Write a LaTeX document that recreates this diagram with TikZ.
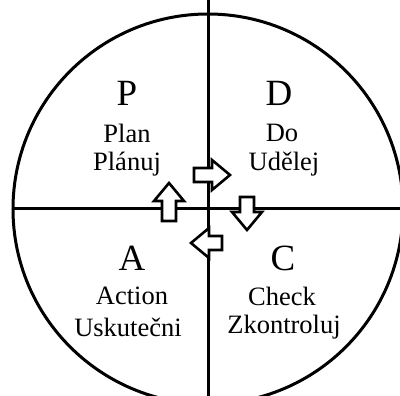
\documentclass[tikz,border=0pt]{standalone}
\usepackage{fontspec}
\setmainfont{Liberation Serif}
\begin{document}
\begin{tikzpicture}[x=1pt,y=-1pt,
  line/.style={line width=3pt},
  big/.style={font=\fontsize{37}{40}\selectfont, inner sep=0pt},
  small/.style={font=\fontsize{26.5}{28}\selectfont, inner sep=0pt, align=center},
  blockarrow/.style={line width=2.6pt, fill=white, line join=miter}]
\useasboundingbox (0,0) rectangle (400,396);
\begin{scope}
\clip (0,0) rectangle (400,396);
\draw[line] (208,209) circle (195);
\draw[line] (208,0) -- (208,396);
\draw[line] (12,209) -- (400,209);
\end{scope}
% block arrows
\newcommand{\blockarr}[4]{% x, y (tail centre), angle, length
  \begin{scope}[shift={(#1,#2)}, rotate=#3]
    \draw[blockarrow] (0,-7) -- ({#4-18},-7) -- ({#4-18},-15) -- (#4,0) -- ({#4-18},15) -- ({#4-18},7) -- (0,7) -- cycle;
  \end{scope}}
\blockarr{194}{175}{0}{36}
\blockarr{169}{221}{90}{38}
\blockarr{247}{197}{-90}{33}
\blockarr{222}{243}{180}{31}
% texts
\node[big] (p) at (127,93) {P};
\node[small] (plan) at (127,133) {Plan};
\node[small] (planuj) at (127,164) {Plánuj};
\node[big] (d) at (279,93) {D};
\node[small] (do) at (282,133) {Do};
\node[small] (udelej) at (284,164) {Udělej};
\node[big] (a) at (132,258) {A};
\node[small] (action) at (132,296) {Action};
\node[small] (usk) at (128,327) {Uskutečni};
\node[big] (c) at (283,258) {C};
\node[small] (check) at (282,296) {Check};
\node[small] (zk) at (284,327) {Zkontroluj};
\end{tikzpicture}
\end{document}
